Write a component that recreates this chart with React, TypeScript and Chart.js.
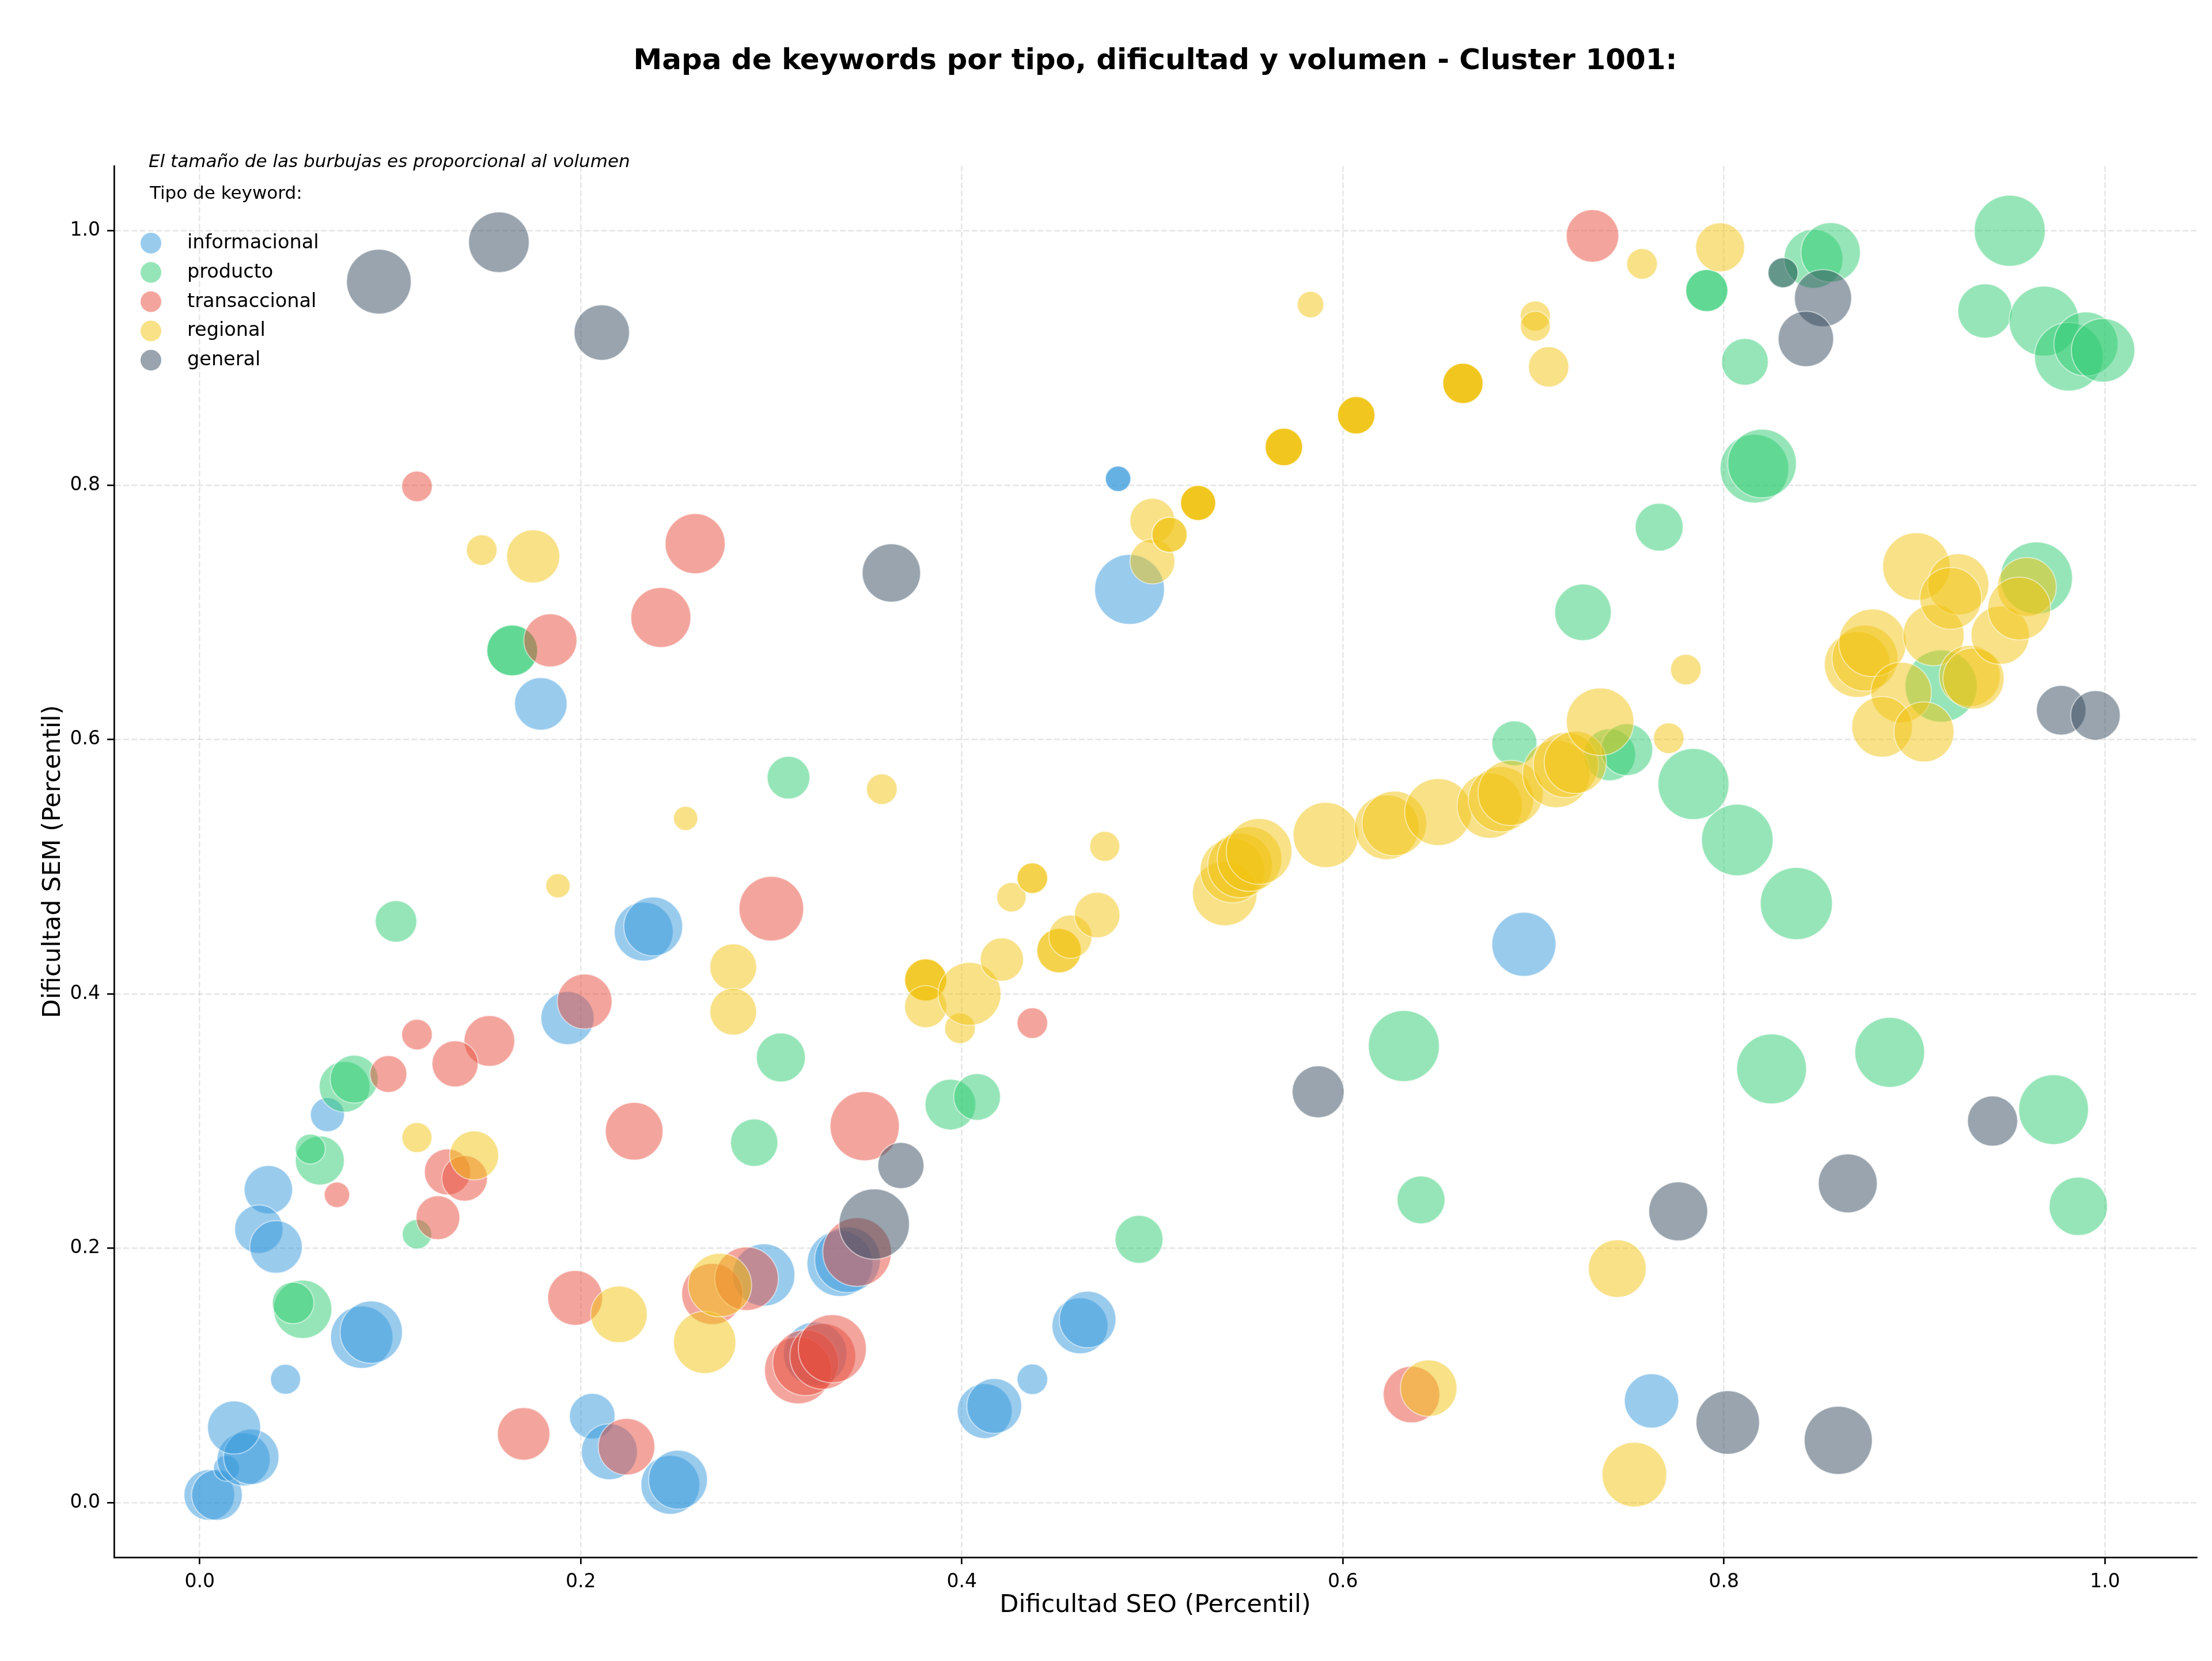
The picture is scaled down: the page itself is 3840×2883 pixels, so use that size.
import React, { useEffect, useRef } from "react";
import { Chart, registerables } from "chart.js";

Chart.register(...registerables);

// ---- Texto ----
const TITULO = "Mapa de keywords por tipo, dificultad y volumen - Cluster 1001:";
const SUBTITULO = "El tamaño de las burbujas es proporcional al volumen";
const TITULO_LEYENDA = "Tipo de keyword:";
const EJE_X = "Dificultad SEO (Percentil)";
const EJE_Y = "Dificultad SEM (Percentil)";

const TIPOS = ["informacional", "producto", "transaccional", "regional", "general"];
const COLORES = ["#3498db", "#2ecc71", "#e74c3c", "#f1c40f", "#34495e"];
const TICKS = [0, 0.2, 0.4, 0.6, 0.8, 1.0];

// ---- Datos: dificultad SEO (x), dificultad SEM (y), volumen ----
const infoSeo = [0.005, 0.009, 0.014, 0.023, 0.027, 0.018, 0.045, 0.085, 0.090, 0.036, 0.031, 0.040, 0.067, 0.206, 0.215, 0.247, 0.251, 0.296, 0.323, 0.336, 0.340, 0.193, 0.233, 0.238, 0.179, 0.482, 0.482, 0.488, 0.462, 0.466, 0.437, 0.412, 0.417, 0.695, 0.762];
const infoSem = [0.006, 0.006, 0.027, 0.034, 0.036, 0.059, 0.097, 0.130, 0.134, 0.246, 0.215, 0.201, 0.305, 0.068, 0.040, 0.014, 0.018, 0.179, 0.117, 0.188, 0.191, 0.381, 0.449, 0.453, 0.628, 0.805, 0.805, 0.718, 0.139, 0.144, 0.097, 0.072, 0.076, 0.439, 0.080];
const infoVol = [8100, 8100, 2210, 8840, 9600, 8840, 2920, 12100, 12100, 7400, 7400, 8650, 3720, 6560, 9800, 10820, 10820, 12100, 12540, 13460, 13460, 8840, 10820, 10820, 8650, 2120, 2120, 15130, 9800, 10000, 3030, 9410, 9410, 12770, 9220];

const prodSeo = [0.164, 0.164, 0.076, 0.081, 0.054, 0.049, 0.063, 0.058, 0.114, 0.103, 0.291, 0.305, 0.309, 0.394, 0.408, 0.493, 0.641, 0.632, 0.690, 0.740, 0.749, 0.784, 0.807, 0.838, 0.825, 0.887, 0.973, 0.986, 0.914, 0.964, 0.726, 0.766, 0.816, 0.820, 0.811, 0.791, 0.791, 0.831, 0.847, 0.856, 0.950, 0.937, 0.968, 0.981, 0.990, 0.999];
const prodSem = [0.670, 0.670, 0.327, 0.333, 0.152, 0.157, 0.269, 0.278, 0.211, 0.457, 0.283, 0.350, 0.570, 0.313, 0.319, 0.207, 0.238, 0.359, 0.597, 0.588, 0.592, 0.565, 0.521, 0.471, 0.341, 0.354, 0.309, 0.233, 0.642, 0.727, 0.700, 0.767, 0.813, 0.817, 0.897, 0.953, 0.953, 0.967, 0.978, 0.983, 1.000, 0.937, 0.929, 0.901, 0.911, 0.906];
const prodVol = [8100, 8100, 8100, 7230, 10610, 5480, 7570, 2920, 2810, 5480, 7060, 7570, 5780, 8100, 6890, 7230, 7230, 15630, 6400, 8460, 8460, 15630, 15880, 16130, 15130, 15130, 15130, 10610, 16130, 16130, 10000, 7230, 14640, 14640, 6890, 5630, 5630, 2920, 10820, 11030, 15630, 9220, 15130, 14640, 12770, 12540];

const tranSeo = [0.114, 0.260, 0.242, 0.184, 0.300, 0.202, 0.152, 0.134, 0.114, 0.099, 0.130, 0.139, 0.125, 0.072, 0.228, 0.197, 0.170, 0.224, 0.269, 0.287, 0.314, 0.318, 0.327, 0.332, 0.345, 0.349, 0.437, 0.636, 0.731];
const tranSem = [0.799, 0.754, 0.696, 0.678, 0.467, 0.394, 0.363, 0.345, 0.368, 0.337, 0.260, 0.255, 0.224, 0.242, 0.292, 0.161, 0.054, 0.044, 0.164, 0.176, 0.104, 0.110, 0.115, 0.121, 0.197, 0.296, 0.377, 0.085, 0.996];
const tranVol = [3030, 11240, 11240, 8840, 13000, 9410, 8100, 6720, 3030, 4360, 6720, 6560, 6080, 2120, 10400, 9410, 8650, 10000, 11660, 12540, 13920, 13460, 13460, 14400, 14640, 14880, 3030, 10000, 8650];

const regSeo = [0.148, 0.175, 0.188, 0.255, 0.114, 0.144, 0.220, 0.265, 0.273, 0.280, 0.280, 0.358, 0.381, 0.381, 0.381, 0.381, 0.399, 0.404, 0.421, 0.426, 0.437, 0.437, 0.451, 0.451, 0.457, 0.471, 0.475, 0.500, 0.500, 0.509, 0.509, 0.524, 0.524, 0.524, 0.524, 0.569, 0.569, 0.569, 0.569, 0.607, 0.607, 0.607, 0.607, 0.663, 0.663, 0.663, 0.663, 0.583, 0.538, 0.542, 0.546, 0.551, 0.556, 0.591, 0.623, 0.627, 0.650, 0.677, 0.683, 0.688, 0.712, 0.717, 0.722, 0.735, 0.771, 0.780, 0.701, 0.701, 0.708, 0.757, 0.798, 0.870, 0.874, 0.878, 0.910, 0.893, 0.929, 0.931, 0.883, 0.905, 0.945, 0.901, 0.923, 0.919, 0.959, 0.955, 0.744, 0.753, 0.645];
const regSem = [0.749, 0.744, 0.485, 0.538, 0.287, 0.273, 0.148, 0.126, 0.171, 0.421, 0.386, 0.561, 0.411, 0.411, 0.411, 0.390, 0.373, 0.400, 0.427, 0.476, 0.491, 0.491, 0.434, 0.434, 0.445, 0.462, 0.516, 0.772, 0.740, 0.761, 0.761, 0.786, 0.786, 0.786, 0.786, 0.830, 0.830, 0.830, 0.830, 0.855, 0.855, 0.855, 0.855, 0.880, 0.880, 0.880, 0.880, 0.942, 0.479, 0.497, 0.501, 0.506, 0.512, 0.525, 0.531, 0.534, 0.543, 0.548, 0.553, 0.558, 0.573, 0.580, 0.582, 0.614, 0.601, 0.655, 0.933, 0.925, 0.893, 0.974, 0.987, 0.659, 0.664, 0.676, 0.682, 0.637, 0.650, 0.648, 0.610, 0.606, 0.682, 0.736, 0.722, 0.711, 0.720, 0.703, 0.184, 0.022, 0.090];
const regVol = [3030, 8840, 1940, 1940, 2920, 7570, 10000, 12100, 12540, 6890, 6890, 3030, 5630, 5630, 5630, 5630, 3030, 12320, 5930, 2810, 3030, 3030, 6240, 6240, 5930, 6560, 2920, 6400, 6400, 3970, 3970, 3970, 3970, 3970, 3970, 4490, 4490, 4490, 4490, 4490, 4490, 4490, 4490, 5180, 5180, 5180, 5180, 2300, 13000, 13000, 13000, 13000, 13460, 13230, 13000, 13000, 13920, 13230, 13230, 13230, 14160, 13230, 12100, 14160, 3030, 3030, 2920, 2920, 5180, 3030, 7570, 13460, 13460, 14160, 11660, 11450, 11660, 11660, 11450, 11240, 10610, 14160, 11660, 11880, 10820, 12320, 10400, 13000, 10000];

const genSeo = [0.094, 0.157, 0.211, 0.363, 0.368, 0.354, 0.587, 0.831, 0.852, 0.843, 0.977, 0.995, 0.941, 0.865, 0.776, 0.802, 0.860];
const genSem = [0.960, 0.991, 0.920, 0.731, 0.265, 0.219, 0.323, 0.967, 0.947, 0.915, 0.623, 0.619, 0.300, 0.251, 0.229, 0.063, 0.049];
const genVol = [13000, 11450, 9600, 10610, 6720, 15380, 8460, 2920, 10200, 9600, 7740, 7740, 7920, 10820, 10820, 12540, 14400];

const SERIES = [
  [infoSeo, infoSem, infoVol],
  [prodSeo, prodSem, prodVol],
  [tranSeo, tranSem, tranVol],
  [regSeo, regSem, regVol],
  [genSeo, genSem, genVol],
];

// ---- Estilo ----
const FUENTE = '"DejaVu Sans"';
const ALFA = 0.5;
const BORDE = 2;

function rgba(hex: string, a: number) {
  const n = parseInt(hex.slice(1), 16);
  return `rgba(${(n >> 16) & 255}, ${(n >> 8) & 255}, ${n & 255}, ${a})`;
}

// El área de la burbuja es proporcional al volumen
function radio(vol: number) {
  return Math.sqrt(vol) / 2 - BORDE / 2;
}

const textos = {
  id: "textos",
  afterDatasetsDraw(chart: any) {
    const { ctx, chartArea } = chart;
    const cx = (chartArea.left + chartArea.right) / 2;
    const cy = (chartArea.top + chartArea.bottom) / 2;
    ctx.save();
    ctx.fillStyle = "#000";

    ctx.font = `bold 50px ${FUENTE}`;
    ctx.textAlign = "center";
    ctx.textBaseline = "alphabetic";
    ctx.fillText(TITULO, cx, 120);

    ctx.font = `italic 31px ${FUENTE}`;
    ctx.textAlign = "left";
    ctx.fillText(SUBTITULO, chartArea.left + 60, chartArea.top + 2);

    ctx.font = `31px ${FUENTE}`;
    ctx.fillText(TITULO_LEYENDA, chartArea.left + 62, chartArea.top + 57);

    ctx.font = `33.5px ${FUENTE}`;
    TIPOS.forEach((t, i) => {
      const y = chartArea.top + 134 + i * 50.8;
      ctx.beginPath();
      ctx.arc(chartArea.left + 64, y, 18, 0, Math.PI * 2);
      ctx.fillStyle = rgba(COLORES[i], ALFA);
      ctx.fill();
      ctx.fillStyle = "#000";
      ctx.fillText(t, chartArea.left + 127, y + 9);
    });

    ctx.font = `43px ${FUENTE}`;
    ctx.textAlign = "center";
    ctx.textBaseline = "middle";
    ctx.fillText(EJE_X, cx, 2787);
    ctx.translate(93, cy);
    ctx.rotate(-Math.PI / 2);
    ctx.fillText(EJE_Y, 0, 0);
    ctx.restore();
  },
};

function ejeComun(min: number, max: number) {
  return {
    type: "linear" as const,
    min,
    max,
    afterBuildTicks: (axis: any) => {
      axis.ticks = TICKS.map((value) => ({ value }));
    },
    ticks: {
      callback: (v: any) => Number(v).toFixed(1),
      font: { family: "DejaVu Sans", size: 33 },
      color: "#000",
      padding: 12,
      maxRotation: 0,
      autoSkip: false,
    },
    grid: {
      color: "rgba(176, 176, 176, 0.3)",
      lineWidth: 2.67,
      drawTicks: true,
      tickLength: 12,
      tickColor: "#000",
      tickWidth: 2.67,
    },
    border: { display: true, color: "#000", width: 2.7, dash: [10, 4.3] },
  };
}

export default function App() {
  const ref = useRef<HTMLCanvasElement>(null);

  useEffect(() => {
    if (!ref.current) return;
    const datasets = SERIES.map(([seo, sem, vol], i) => ({
      label: TIPOS[i],
      data: seo.map((x, k) => ({ x, y: sem[k], r: radio(vol[k]) })),
      backgroundColor: rgba(COLORES[i], ALFA),
      borderColor: rgba("#ffffff", ALFA),
      borderWidth: BORDE,
      order: TIPOS.length - 1 - i,
    }));

    const chart = new Chart(ref.current, {
      type: "bubble",
      data: { datasets },
      options: {
        animation: false,
        responsive: false,
        devicePixelRatio: 1,
        events: [],
        layout: { autoPadding: false, padding: { left: 0, top: 288, right: 27, bottom: 0 } },
        plugins: {
          legend: { display: false },
          tooltip: { enabled: false },
          title: { display: false },
        },
        scales: {
          x: { ...ejeComun(-0.045, 1.048), position: "bottom", afterFit: (s: any) => { s.height = 180; } },
          y: { ...ejeComun(-0.043, 1.051), position: "left", afterFit: (s: any) => { s.width = 198; } },
        },
      } as any,
      plugins: [textos],
    });
    return () => chart.destroy();
  }, []);

  return (
    <div style={{ position: "absolute", left: 0, top: 0, width: 3840, height: 2883, background: "#fff" }}>
      <canvas ref={ref} width={3840} height={2883} style={{ display: "block", width: 3840, height: 2883 }} />
    </div>
  );
}
